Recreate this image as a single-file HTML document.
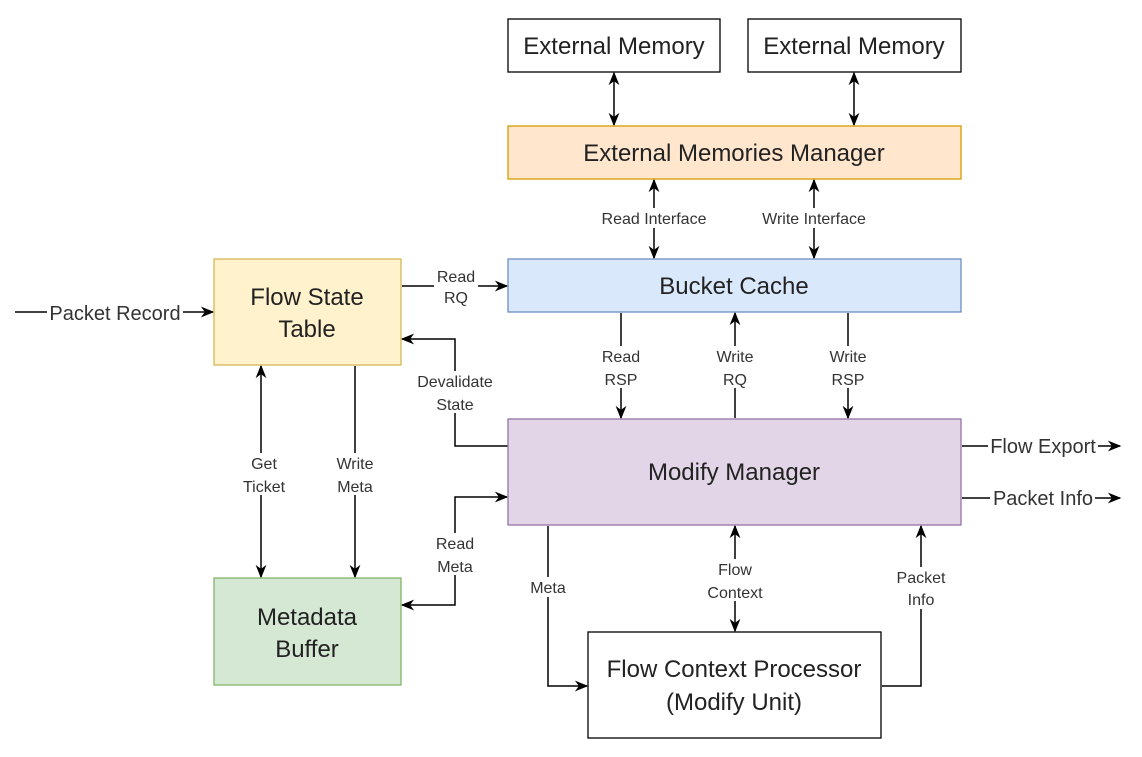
<!DOCTYPE html>
<html><head><style>body{margin:0;background:#fff}svg{display:block}text{font-family:"Liberation Sans",Arial,sans-serif;fill:#222}.l{font-size:16px;text-anchor:middle;fill:#333}.b{font-size:24px;text-anchor:middle}</style></head><body>
<svg width="1142" height="757" viewBox="0 0 1142 757" xmlns="http://www.w3.org/2000/svg">
<defs><marker id="a" viewBox="0 0 10 10" refX="9" refY="5" markerWidth="9" markerHeight="9" orient="auto-start-reverse"><path d="M0,1 L10,5 L0,9 L3,5z" fill="#000"/></marker></defs>
<g stroke="#000" stroke-width="1.5" fill="none">
<path d="M15,312H213" marker-end="url(#a)"/>
<path d="M614,73V125" marker-start="url(#a)" marker-end="url(#a)"/>
<path d="M854,73V125" marker-start="url(#a)" marker-end="url(#a)"/>
<path d="M654,180V258" marker-start="url(#a)" marker-end="url(#a)"/>
<path d="M814,180V258" marker-start="url(#a)" marker-end="url(#a)"/>
<path d="M402,286H507" marker-end="url(#a)"/>
<path d="M621,313V418" marker-end="url(#a)"/>
<path d="M735,418V313" marker-end="url(#a)"/>
<path d="M848,313V418" marker-end="url(#a)"/>
<path d="M508,446H455V339H402" marker-end="url(#a)"/>
<path d="M261,366V577" marker-start="url(#a)" marker-end="url(#a)"/>
<path d="M355,366V577" marker-end="url(#a)"/>
<path d="M402,605H455V497H507" marker-start="url(#a)" marker-end="url(#a)"/>
<path d="M962,446H1120" marker-end="url(#a)"/>
<path d="M962,498H1120" marker-end="url(#a)"/>
<path d="M548,526V686H587" marker-end="url(#a)"/>
<path d="M735,526V631" marker-start="url(#a)" marker-end="url(#a)"/>
<path d="M882,686H921V526" marker-end="url(#a)"/>
</g>
<g fill="#fff">
<rect x="47" y="300" width="136" height="24"/>
<rect x="988" y="434" width="110" height="24"/>
<rect x="990" y="486" width="105" height="24"/>
<rect x="596" y="208" width="116" height="20"/>
<rect x="756" y="208" width="116" height="20"/>
<rect x="434" y="266" width="44" height="40"/>
<rect x="600" y="346" width="42" height="42"/>
<rect x="714" y="346" width="42" height="42"/>
<rect x="827" y="346" width="42" height="42"/>
<rect x="414" y="371" width="82" height="42"/>
<rect x="242" y="453" width="44" height="42"/>
<rect x="334" y="453" width="42" height="42"/>
<rect x="434" y="533" width="42" height="42"/>
<rect x="528" y="577" width="40" height="20"/>
<rect x="706" y="559" width="58" height="42"/>
<rect x="894" y="567" width="54" height="42"/>
</g>
<g stroke-width="1.3">
<rect x="508" y="19" width="212" height="53" fill="#fff" stroke="#000"/>
<rect x="748" y="19" width="213" height="53" fill="#fff" stroke="#000"/>
<rect x="508" y="126" width="453" height="53" fill="#ffe6cc" stroke="#d79b00"/>
<rect x="508" y="259" width="453" height="53" fill="#dae8fc" stroke="#6c8ebf"/>
<rect x="214" y="259" width="187" height="106" fill="#fff2cc" stroke="#d6b656"/>
<rect x="508" y="419" width="453" height="106" fill="#e1d5e7" stroke="#9673a6"/>
<rect x="214" y="578" width="187" height="107" fill="#d5e8d4" stroke="#82b366"/>
<rect x="588" y="632" width="293" height="106" fill="#fff" stroke="#000"/>
</g>
<text class="b" x="614" y="54">External Memory</text>
<text class="b" x="854" y="54">External Memory</text>
<text class="b" x="734" y="161">External Memories Manager</text>
<text class="b" x="734" y="294">Bucket Cache</text>
<text class="b" x="307" y="305">Flow State</text><text class="b" x="307" y="337">Table</text>
<text class="b" x="734" y="480">Modify Manager</text>
<text class="b" x="307" y="625">Metadata</text><text class="b" x="307" y="657">Buffer</text>
<text class="b" x="734" y="677">Flow Context Processor</text><text class="b" x="734" y="710">(Modify Unit)</text>
<text class="l" x="115" y="320" style="font-size:20px">Packet Record</text>
<text class="l" x="1043" y="453" style="font-size:20px">Flow Export</text>
<text class="l" x="1043" y="505" style="font-size:20px">Packet Info</text>
<text class="l" x="654" y="224">Read Interface</text>
<text class="l" x="814" y="224">Write Interface</text>
<text class="l" x="456" y="282">Read</text><text class="l" x="456" y="303">RQ</text>
<text class="l" x="621" y="362">Read</text><text class="l" x="621" y="385">RSP</text>
<text class="l" x="735" y="362">Write</text><text class="l" x="735" y="385">RQ</text>
<text class="l" x="848" y="362">Write</text><text class="l" x="848" y="385">RSP</text>
<text class="l" x="455" y="387">Devalidate</text><text class="l" x="455" y="410">State</text>
<text class="l" x="264" y="469">Get</text><text class="l" x="264" y="492">Ticket</text>
<text class="l" x="355" y="469">Write</text><text class="l" x="355" y="492">Meta</text>
<text class="l" x="455" y="549">Read</text><text class="l" x="455" y="572">Meta</text>
<text class="l" x="548" y="593">Meta</text>
<text class="l" x="735" y="575">Flow</text><text class="l" x="735" y="598">Context</text>
<text class="l" x="921" y="583">Packet</text><text class="l" x="921" y="605">Info</text>
</svg>
</body></html>
